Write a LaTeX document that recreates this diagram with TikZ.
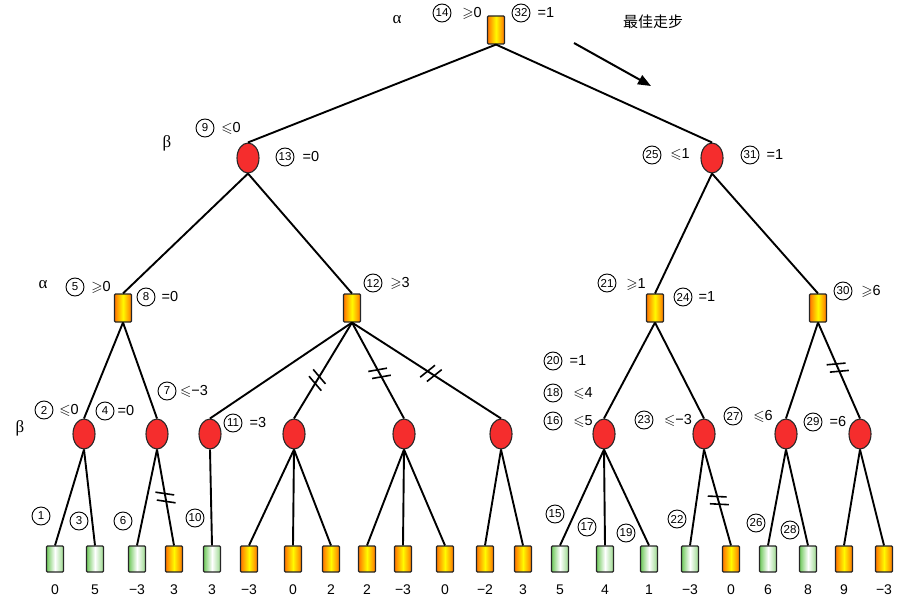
\documentclass[tikz,border=0pt]{standalone}
\usepackage{amssymb}
\usepackage{fontspec}
\setmainfont{Liberation Sans}
\newfontfamily\cjk{Noto Sans CJK SC}
\newfontfamily\grk{Liberation Serif}
\usetikzlibrary{shapes.geometric,arrows.meta,decorations.markings}
\definecolor{orgA}{RGB}{255,115,0}
\definecolor{yelA}{RGB}{255,250,0}
\definecolor{grnA}{RGB}{110,200,90}
\definecolor{redA}{RGB}{245,45,45}
\begin{document}
\begin{tikzpicture}[x=1pt,y=-1pt,
  maxbox/.style={draw=black!85, line width=1.1pt, rounded corners=1pt, minimum width=17pt, minimum height=28pt, inner sep=0pt,
    left color=orgA, right color=orgA, middle color=yelA},
  leafO/.style={maxbox, minimum height=26pt},
  leafG/.style={draw=black!85, line width=1.1pt, rounded corners=1pt, minimum width=17pt, minimum height=26pt, inner sep=0pt,
    left color=grnA, right color=grnA!70, middle color=white},
  minell/.style={ellipse, draw=black!85, line width=1.1pt, fill=redA, minimum width=22pt, minimum height=30pt, inner sep=0pt},
  edge/.style={line width=1.9pt},
  cutedge/.style={edge, postaction={decorate}, decoration={markings,
    mark=at position #1 with {\draw[line width=1.6pt] (-7pt,-9pt)--(-1pt,9pt) (1pt,-9pt)--(7pt,9pt);}}},
  cutedge/.default=0.5,
  cnum/.style={circle, draw, line width=0.9pt, inner sep=0pt, minimum size=18pt, font=\fontsize{11.5}{11.5}\selectfont},
  lbl/.style={inner sep=0pt, font=\fontsize{14.5}{14.5}\selectfont},
  greek/.style={inner sep=0pt, font=\grk\fontsize{17}{17}\selectfont},
  val/.style={inner sep=0pt, font=\fontsize{14}{14}\selectfont}
]
\useasboundingbox (0,0) rectangle (910,610);
% internal nodes
\node[maxbox] (root) at (496,30) {};
\node[minell] (b1) at (248,158) {};
\node[minell] (b2) at (712,158) {};
\node[maxbox] (a1) at (123,308) {};
\node[maxbox] (a2) at (352,308) {};
\node[maxbox] (a3) at (655,308) {};
\node[maxbox] (a4) at (818,308) {};
\foreach \n/\x in {1/84,2/157,3/210,4/294,5/404,6/501,7/604,8/704,9/786,10/860}
  \node[minell] (m\n) at (\x,434) {};
% leaves
\foreach \n/\x/\s/\v in {1/55/leafG/0, 2/95/leafG/5, 3/137/leafG/−3, 4/174/leafO/3, 5/212/leafG/3,
  6/249/leafO/−3, 7/293/leafO/0, 8/331/leafO/2, 9/367/leafO/2, 10/403/leafO/−3, 11/445/leafO/0,
  12/485/leafO/−2, 13/523/leafO/3, 14/560/leafG/5, 15/605/leafG/4, 16/649/leafG/1, 17/690/leafG/−3,
  18/731/leafO/0, 19/768/leafG/6, 20/808/leafG/8, 21/844/leafO/9, 22/884/leafO/−3}
{
  \node[\s] (L\n) at (\x,559) {};
  \node[val] (V\n) at (\x,590) {\v};
}
% edges
\draw[edge] (root.south) -- (b1.north);
\draw[edge] (root.south) -- (b2.north);
\draw[edge] (b1.south) -- (a1.north);
\draw[edge] (b1.south) -- (a2.north);
\draw[edge] (b2.south) -- (a3.north);
\draw[edge] (b2.south) -- (a4.north);
\draw[edge] (a1.south) -- (m1.north);
\draw[edge] (a1.south) -- (m2.north);
\draw[edge] (a2.south) -- (m3.north);
\draw[cutedge=0.6] (a2.south) -- (m4.north);
\draw[cutedge=0.53] (a2.south) -- (m5.north);
\draw[cutedge=0.53] (a2.south) -- (m6.north);
\draw[edge] (a3.south) -- (m7.north);
\draw[edge] (a3.south) -- (m8.north);
\draw[edge] (a4.south) -- (m9.north);
\draw[cutedge=0.47] (a4.south) -- (m10.north);
\draw[edge] (m1.south) -- (L1.north);
\draw[edge] (m1.south) -- (L2.north);
\draw[edge] (m2.south) -- (L3.north);
\draw[cutedge=0.5] (m2.south) -- (L4.north);
\draw[edge] (m3.south) -- (L5.north);
\draw[edge] (m4.south) -- (L6.north);
\draw[edge] (m4.south) -- (L7.north);
\draw[edge] (m4.south) -- (L8.north);
\draw[edge] (m5.south) -- (L9.north);
\draw[edge] (m5.south) -- (L10.north);
\draw[edge] (m5.south) -- (L11.north);
\draw[edge] (m6.south) -- (L12.north);
\draw[edge] (m6.south) -- (L13.north);
\draw[edge] (m7.south) -- (L14.north);
\draw[edge] (m7.south) -- (L15.north);
\draw[edge] (m7.south) -- (L16.north);
\draw[edge] (m8.south) -- (L17.north);
\draw[cutedge=0.53] (m8.south) -- (L18.north);
\draw[edge] (m9.south) -- (L19.north);
\draw[edge] (m9.south) -- (L20.north);
\draw[edge] (m10.south) -- (L21.north);
\draw[edge] (m10.south) -- (L22.north);
% best-move arrow
\coordinate (arS) at (574,43);
\coordinate (arE) at (651,86);
\draw[line width=2pt, -{Triangle[length=13pt,width=10pt]}] (arS) -- (arE);
\node[inner sep=0pt, font=\cjk\fontsize{15}{15}\selectfont] (best) at (653,22) {最佳走步};
% greek level markers
\node[greek] (g1) at (397,20) {α};
\node[greek] (g2) at (167,143) {β};
\node[greek] (g3) at (43,285) {α};
\node[greek] (g4) at (20,428) {β};
% circled step numbers
\foreach \n/\x/\y in {14/442/13, 32/521/13, 9/205/128, 13/285/157, 25/652/155, 31/750/155,
  5/75/287, 8/146/297, 12/373/283, 21/607/283, 24/683/297, 30/843/291,
  2/44/410, 4/105/411, 7/167/391, 11/233/423, 20/553/361, 18/553/393, 16/553/421,
  23/644/420, 27/733/416, 29/813/422, 1/41/516, 3/79/521, 6/123/521, 10/195/518,
  15/555/514, 17/587/527, 19/626/533, 22/677/519, 26/756/523, 28/790/530}
  \node[cnum] (c\n) at (\x,\y) {\n};
% value labels
\node[lbl] (t14) at (472,13) {$\geqslant$0};
\node[lbl] (t32) at (546,13) {=1};
\node[lbl] (t9) at (231,128) {$\leqslant$0};
\node[lbl] (t13) at (311,157) {=0};
\node[lbl] (t25) at (680,155) {$\leqslant$1};
\node[lbl] (t31) at (775,155) {=1};
\node[lbl] (t5) at (101,287) {$\geqslant$0};
\node[lbl] (t8) at (170,297) {=0};
\node[lbl] (t12) at (400,283) {$\geqslant$3};
\node[lbl] (t21) at (636,285) {$\geqslant$1};
\node[lbl] (t24) at (707,297) {=1};
\node[lbl] (t30) at (871,291) {$\geqslant$6};
\node[lbl] (t2) at (69,410) {$\leqslant$0};
\node[lbl] (t4) at (126,411) {=0};
\node[lbl] (t7) at (194,391) {$\leqslant$−3};
\node[lbl] (t11) at (258,423) {=3};
\node[lbl] (t20) at (578,361) {=1};
\node[lbl] (t18) at (583,393) {$\leqslant$4};
\node[lbl] (t16) at (583,421) {$\leqslant$5};
\node[lbl] (t23) at (678,420) {$\leqslant$−3};
\node[lbl] (t27) at (763,416) {$\leqslant$6};
\node[lbl] (t29) at (838,422) {=6};
\end{tikzpicture}
\end{document}
